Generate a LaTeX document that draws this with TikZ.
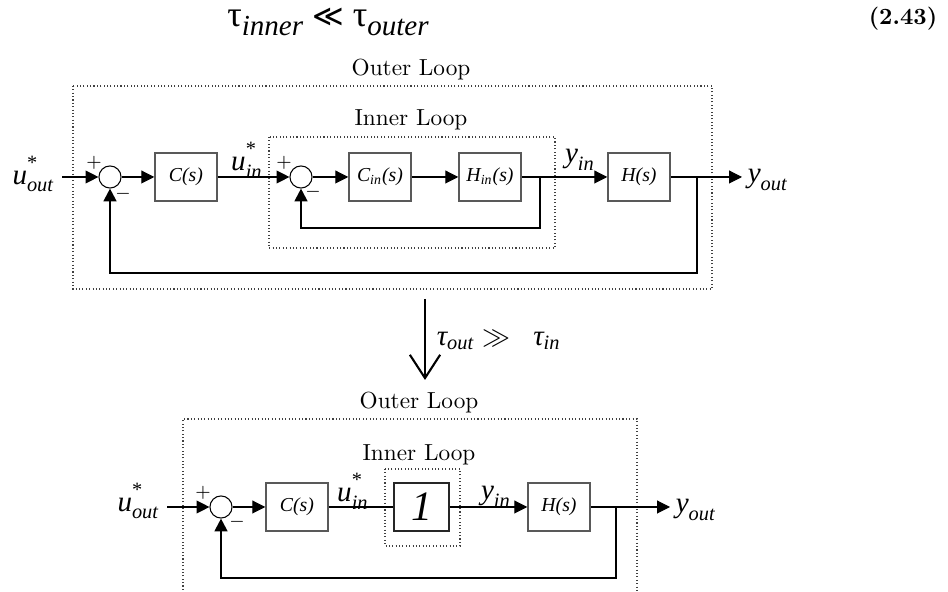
\documentclass[tikz,border=0pt]{standalone}
\usepackage{amsmath,amssymb}
\usepackage{fontspec}
\newfontfamily\tnr{Liberation Serif}
\newfontfamily\symfont{DejaVu Sans}
\usepackage{tikz}
\usetikzlibrary{positioning, arrows.meta, calc}

% signal name: letter, subscript, superscript
\newcommand{\sgn}[3]{$\text{\itshape #1}^{#3}_{\text{\itshape #2}}$}
\newcommand{\upstar}{\text{\raisebox{2.5pt}{*}}}

\begin{document}
\begin{tikzpicture}[
  x=0.43pt, y=-0.43pt,
  >={Triangle[length=5.5pt,width=5.5pt]},
  block/.style={draw=black!65, line width=0.6pt, inner sep=1pt,
                minimum width=26.7pt, minimum height=20.5pt,
                font=\tnr\itshape\fontsize{8.5}{10}\selectfont},
  unitblk/.style={block, draw=black!85, minimum width=23.6pt, minimum height=20.6pt,
                  font=\tnr\itshape\fontsize{18}{19}\selectfont},
  sumjn/.style={draw, circle, minimum size=9.5pt, inner sep=0pt, line width=0.45pt},
  sig/.style={inner sep=1pt, font=\tnr\fontsize{12.5}{14}\selectfont},
  signlbl/.style={inner sep=0pt, font=\fontsize{8}{9}\selectfont},
  loopbox/.style={draw=black!75, densely dotted, line width=0.45pt},
  wire/.style={line width=0.45pt},
  flow/.style={->, line width=0.45pt},
  fb/.style={->, line width=0.9pt},
  bigarrow/.style={-{Straight Barb[length=10pt,width=13pt]}, line width=0.9pt},
]
\useasboundingbox (0,0) rectangle (948,592);

% equation line
\node (eq) at (328,22) {\tnr\fontsize{15.5}{17}\selectfont τ\raisebox{-3.5pt}{\fontsize{12.5}{13}\selectfont\itshape inner}
  {\symfont\fontsize{13}{15}\selectfont ≪} τ\raisebox{-3.5pt}{\fontsize{12.5}{13}\selectfont\itshape outer}};
\node (eqno) at (903,19) {\bfseries (2.43)};

% ---------------- upper diagram ----------------
\draw[loopbox] (73,86) rectangle (712,289);
\draw[loopbox] (269,137) rectangle (555,248);
\node (outerA) at (411,70) {Outer Loop};
\node (innerA) at (411,120) {Inner Loop};

\node[sumjn] (S1) at (110,177) {};
\node[block] (C1) at (186,177) {C(s)};
\node[sumjn] (S2) at (301,177) {};
\node[block] (Ci) at (380,177) {$\text{C}_{\text{in}}\text{(s)}$};
\node[block] (Hi) at (490,177) {$\text{H}_{\text{in}}\text{(s)}$};
\node[block] (H1) at (639,177) {H(s)};

\node[sig, anchor=base east] (uoutA) at (57,185) {\sgn{u}{out}{\upstar}};
\node[sig, anchor=base] (uinA) at (247,171) {\sgn{u}{in}{\upstar}};
\node[sig, anchor=base] (yinA) at (580,163) {\sgn{y}{in}{}};
\node[sig, anchor=base west] (youtA) at (745,183) {\sgn{y}{out}{}};

\node[signlbl] (pA1) at (94,163) {$+$};
\node[signlbl] (mA1) at (123,194) {$-$};
\node[signlbl] (pA2) at (284,163) {$+$};
\node[signlbl] (mA2) at (313,192) {$-$};

\coordinate (inA) at (62,177);
\coordinate (brA1) at (540,177);
\coordinate (brA2) at (697,177);
\coordinate (outA) at (742,177);

\draw[flow] (inA) -- (S1);
\draw[flow] (S1) -- (C1);
\draw[flow] (C1) -- (S2);
\draw[flow] (S2) -- (Ci);
\draw[flow] (Ci) -- (Hi);
\draw[flow] (Hi) -- (H1);
\draw[flow] (H1) -- (outA);
\draw[fb] (brA1) -- ++(0,51) -| (S2.south);
\draw[fb] (brA2) -- ++(0,96) -| (S1.south);

% ---------------- transition ----------------
\coordinate (arTop) at (425,299);
\coordinate (arEnd) at (425,380);
\draw[bigarrow] (arTop) -- (arEnd);
\node[sig, anchor=west] (cond) at (434,340)
  {$\text{\itshape τ}_{\text{\itshape out}} \gg\;\; \text{\itshape τ}_{\text{\itshape in}}$};

% ---------------- lower diagram ----------------
\draw[loopbox] (183,600) |- (637,419) -- (637,600);
\draw[loopbox] (385,469) rectangle (460,546);
\node (outerB) at (419,403) {Outer Loop};
\node (innerB) at (419,455) {Inner Loop};

\node[sumjn] (S3) at (221,507) {};
\node[block] (C3) at (297,507) {C(s)};
\node[unitblk] (one) at (421.5,507) {1};
\node[block] (H3) at (559,507) {H(s)};

\node[sig, anchor=base east] (uoutB) at (162,512) {\sgn{u}{out}{\upstar}};
\node[sig, anchor=base] (uinB) at (353,502) {\sgn{u}{in}{\upstar}};
\node[sig, anchor=base] (yinB) at (496,500) {\sgn{y}{in}{}};
\node[sig, anchor=base west] (youtB) at (673,513) {\sgn{y}{out}{}};

\node[signlbl] (pB) at (203,493) {$+$};
\node[signlbl] (mB) at (237,522) {$-$};

\coordinate (inB) at (167,507);
\coordinate (brB) at (616,507);
\coordinate (outB) at (670,507);

\draw[flow] (inB) -- (S3);
\draw[flow] (S3) -- (C3);
\draw[wire] (C3) -- (one);
\draw[flow] (one) -- (H3);
\draw[flow] (H3) -- (outB);
\draw[fb] (brB) -- ++(0,71) -| (S3.south);

\end{tikzpicture}
\end{document}
